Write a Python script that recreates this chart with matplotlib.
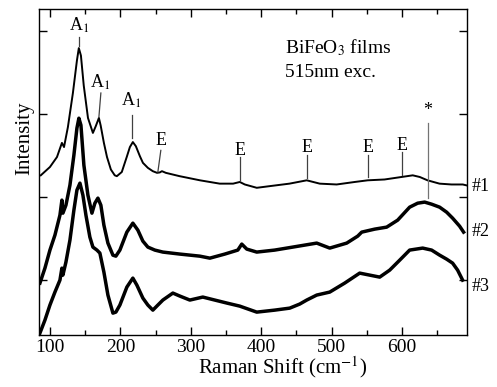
import matplotlib
matplotlib.use('Agg')
import matplotlib.pyplot as plt
from matplotlib.ticker import MultipleLocator

# 光谱数据（从图上读取，强度为任意单位）
x1 = [87, 100, 110, 117, 120, 125.5, 132.6, 138.3, 141, 144, 148, 154, 161, 165,
      169.5, 172, 176.6, 181, 186.5, 192, 195, 202, 209, 213.5, 217.7, 222, 227.7,
      232, 239, 246, 252, 256, 259, 264.5, 284, 313, 341, 360, 369.5, 376.6, 393.6,
      412, 440, 464.5, 483, 507, 532.6, 551, 575, 599, 615, 625, 636, 653, 670, 686, 691]
y1 = [1.26, 1.36, 1.48, 1.65, 1.60, 1.84, 2.25, 2.64, 2.79, 2.70, 2.34, 1.95, 1.77, 1.85,
      1.95, 1.86, 1.65, 1.48, 1.33, 1.26, 1.25, 1.30, 1.48, 1.60, 1.66, 1.61, 1.49,
      1.41, 1.35, 1.31, 1.29, 1.295, 1.31, 1.29, 1.25, 1.20, 1.16, 1.16, 1.18, 1.15, 1.11,
      1.13, 1.16, 1.20, 1.16, 1.15, 1.18, 1.20, 1.21, 1.24, 1.26, 1.24, 1.20, 1.16, 1.15, 1.15, 1.14]

x2 = [85.8, 92.9, 100, 107.1, 114.2, 117.0, 118.4, 122.7, 128.4, 134.0, 138.3, 141.1,
      144.0, 148.2, 153.9, 159.6, 163.8, 168.1, 172.3, 176.6, 182.3, 189.4, 193.6, 199.3,
      209.2, 217.7, 224.8, 231.9, 239.0, 248.9, 260.3, 284.4, 312.8, 327.0, 348.2, 366.7,
      372.3, 379.4, 393.6, 419.1, 444.7, 478.7, 497.2, 521.3, 536.9, 542.6, 561.0, 578.0,
      593.6, 610.6, 622.0, 631.9, 641.8, 653.2, 663.1, 671.6, 681.5, 687.2]
y2 = [-0.036, 0.144, 0.361, 0.541, 0.781, 0.962, 0.805, 0.901, 1.142, 1.502, 1.827, 1.947,
      1.863, 1.382, 1.022, 0.805, 0.925, 0.986, 0.901, 0.661, 0.445, 0.300, 0.288, 0.361,
      0.577, 0.685, 0.601, 0.469, 0.397, 0.361, 0.337, 0.313, 0.288, 0.264, 0.313, 0.361,
      0.433, 0.373, 0.337, 0.361, 0.397, 0.445, 0.385, 0.445, 0.529, 0.577, 0.613, 0.637,
      0.721, 0.877, 0.925, 0.938, 0.913, 0.877, 0.817, 0.745, 0.649, 0.577]

x3 = [85.8, 92.9, 100, 107.1, 114.2, 117.0, 118.4, 122.7, 128.4, 134.0, 138.3, 142.6,
      146.8, 151.1, 156.7, 161.0, 166.7, 170.9, 176.6, 182.3, 189.4, 193.6, 199.3, 209.2,
      217.7, 223.4, 231.9, 239.0, 246.1, 253.2, 260.3, 274.5, 284.4, 298.6, 317.0, 334.0,
      351.1, 369.5, 393.6, 419.1, 440.4, 454.6, 464.5, 478.7, 497.2, 518.4, 539.7, 553.9,
      568.1, 582.3, 596.5, 610.6, 629.1, 641.8, 653.2, 663.1, 671.6, 678.7, 685.8]
y3 = [-0.637, -0.481, -0.300, -0.144, 0.0, 0.144, 0.060, 0.216, 0.481, 0.841, 1.082, 1.166,
      1.022, 0.781, 0.517, 0.397, 0.361, 0.325, 0.096, -0.180, -0.397, -0.385, -0.300, -0.084,
      0.024, -0.060, -0.216, -0.300, -0.361, -0.300, -0.240, -0.156, -0.192, -0.240, -0.204, -0.240,
      -0.276, -0.313, -0.385, -0.361, -0.337, -0.288, -0.240, -0.180, -0.144, -0.036, 0.084, 0.060,
      0.036, 0.120, 0.240, 0.361, 0.385, 0.361, 0.300, 0.252, 0.204, 0.120, 0.0]

# 峰位标注: 文本, 文本位置, 竖线起止
peak_labels = ['A$_1$', 'A$_1$', 'A$_1$', 'E', 'E', 'E', 'E', 'E', '*']
peak_text_x = [141, 171, 216, 257, 369.5, 464.5, 551, 599.3, 636]
peak_text_y = [3.065, 2.38, 2.16, 1.68, 1.56, 1.59, 1.60, 1.62, 2.04]
stick_x0 = [141, 172.3, 216, 257.4, 369.5, 464.5, 551, 599.3, 636]
stick_x1 = [141, 169.5, 216, 253.2, 369.5, 464.5, 551, 599.3, 636]
stick_y0 = [2.92, 2.25, 1.98, 1.56, 1.48, 1.50, 1.51, 1.54, 1.89]
stick_y1 = [2.82, 1.96, 1.71, 1.30, 1.20, 1.23, 1.24, 1.26, 0.99]

sample_names = ['#1', '#2', '#3']
sample_y = [1.13, 0.58, -0.08]

plt.rcParams['font.family'] = ['Liberation Serif', 'DejaVu Serif']
plt.rcParams['mathtext.fontset'] = 'stix'

fig = plt.figure(figsize=(4.97, 3.87), dpi=100)
ax = fig.add_axes([0.0785, 0.1344, 0.8611, 0.8423])

ax.plot(x1, y1, color='black', linewidth=1.4)
ax.plot(x2, y2, color='black', linewidth=2.5)
ax.plot(x3, y3, color='black', linewidth=2.5)

for i, lab in enumerate(peak_labels):
    ax.text(peak_text_x[i], peak_text_y[i], lab, fontsize=13, ha='center', va='center')
    c = '0.45' if lab == '*' else '0.25'
    ax.plot([stick_x0[i], stick_x1[i]], [stick_y0[i], stick_y1[i]], color=c, linewidth=0.9)

for name, yy in zip(sample_names, sample_y):
    ax.text(1.012, yy, name, transform=ax.get_yaxis_transform(), fontsize=13,
            ha='left', va='center', clip_on=False)

ax.text(0.574, 0.88, 'BiFeO$_3$ films', transform=ax.transAxes, fontsize=14,
        ha='left', va='center')
ax.text(0.574, 0.805, '515nm exc.', transform=ax.transAxes, fontsize=14,
        ha='left', va='center')

ax.set_xlim(84.5, 692)
ax.set_ylim(-0.66, 3.26)
ax.xaxis.set_major_locator(MultipleLocator(100))
ax.xaxis.set_minor_locator(MultipleLocator(50))
ax.set_yticks([0, 1, 2, 3])
ax.set_yticklabels([])
ax.tick_params(which='both', direction='in', top=True, right=True, width=1.0)
ax.tick_params(which='major', length=6, labelsize=14, pad=3)
ax.tick_params(which='minor', length=3.5)
for s in ax.spines.values():
    s.set_linewidth(1.0)

ax.set_xlabel('Raman Shift (cm$^{-1}$)', fontsize=15)
ax.xaxis.set_label_coords(0.57, -0.06)
ax.set_ylabel('Intensity', fontsize=15)
ax.yaxis.set_label_coords(-0.011, 0.604)

fig.savefig('out.png', dpi=100)
plt.close(fig)
